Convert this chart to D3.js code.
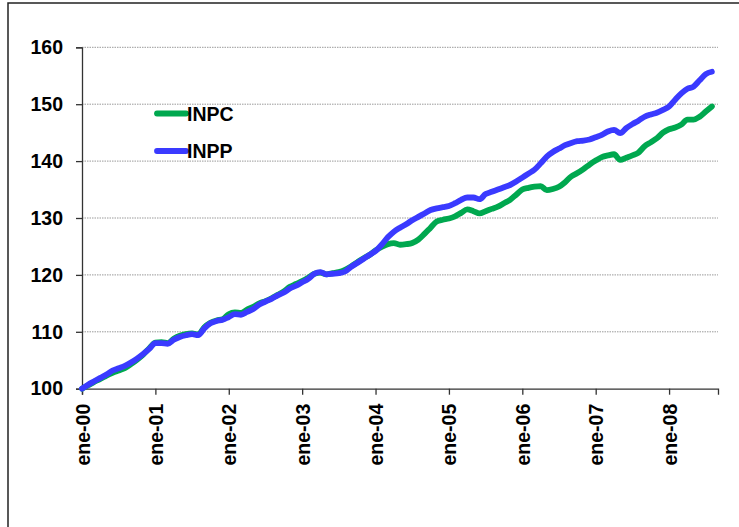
<!DOCTYPE html>
<html>
<head>
<meta charset="utf-8">
<script src="https://cdn.jsdelivr.net/npm/d3@7"></script>
<style>
  body { margin: 0; background: #fff; }
  svg { display: block; font-family: "Liberation Sans", Arial, sans-serif; font-weight: bold; }
</style>
</head>
<body>
<svg width="739" height="527"></svg>
<script>
// monthly index, ene-00 = 100
const inpc = [
  100.0, 100.6, 101.2, 101.7, 102.3, 102.8, 103.2, 103.6, 104.3, 105.1, 106.0, 107.1,
  108.1, 108.2, 108.0, 108.8, 109.3, 109.6, 109.7, 109.5, 110.8, 111.6, 112.0, 112.2,
  113.1, 113.4, 113.3, 113.9, 114.4, 115.0, 115.4, 115.9, 116.5, 117.1, 117.9, 118.4,
  118.9, 119.5, 120.2, 120.4, 120.1, 120.3, 120.5, 120.9, 121.5, 122.2, 122.9, 123.5,
  124.3, 124.9, 125.4, 125.6, 125.3, 125.4, 125.6, 126.2, 127.2, 128.3, 129.4, 129.7,
  129.9, 130.3, 130.9, 131.5, 131.2, 130.8, 131.2, 131.6, 132.0, 132.6, 133.2, 134.1,
  135.0, 135.3, 135.5, 135.6, 134.9, 135.1, 135.5, 136.3, 137.3, 137.9, 138.6, 139.4,
  140.1, 140.7, 141.0, 141.2, 140.2, 140.6, 141.0, 141.5, 142.6, 143.3, 144.0, 145.0,
  145.6, 145.9, 146.4, 147.3, 147.3, 147.8, 148.7, 149.6
];
const inpp = [
  100.0, 100.7, 101.3, 101.9, 102.5, 103.2, 103.6, 104.0, 104.6, 105.3, 106.1, 107.0,
  108.0, 108.0, 107.9, 108.6, 109.1, 109.4, 109.6, 109.4, 110.6, 111.5, 111.9, 112.1,
  112.6, 113.1, 113.0, 113.5, 114.0, 114.8, 115.3, 115.8, 116.4, 116.9, 117.6, 118.1,
  118.7, 119.3, 120.2, 120.5, 120.1, 120.2, 120.3, 120.6, 121.4, 122.1, 122.8, 123.5,
  124.2, 125.3, 126.6, 127.6, 128.3, 128.9, 129.6, 130.2, 130.8, 131.4, 131.7, 131.9,
  132.1, 132.6, 133.2, 133.6, 133.6, 133.3, 134.2, 134.6, 135.0, 135.4, 135.8, 136.4,
  137.1, 137.8, 138.5, 139.6, 140.8, 141.6, 142.2, 142.8, 143.2, 143.5, 143.6, 143.8,
  144.2, 144.6, 145.2, 145.5, 144.9, 145.8, 146.5, 147.1, 147.8, 148.2, 148.5, 149.0,
  149.6, 150.8, 151.9, 152.7, 153.1, 154.2, 155.3, 155.7
];
const yearLabels = ['ene-00', 'ene-01', 'ene-02', 'ene-03', 'ene-04', 'ene-05', 'ene-06', 'ene-07', 'ene-08'];
const yTicks = [100, 110, 120, 130, 140, 150, 160];

const series = [
  { name: 'INPC', values: inpc, color: '#00a84f' },
  { name: 'INPP', values: inpp, color: '#3a3aff' }
];

const svg = d3.select('svg');

// outer frame (runs off the right and bottom edges)
svg.append('rect')
  .attr('x', 8).attr('y', 3)
  .attr('width', 760).attr('height', 560)
  .attr('fill', 'none')
  .attr('stroke', '#222')
  .attr('stroke-width', 1.5);

const x = d3.scaleLinear().domain([0, 104]).range([82, 718]);
const y = d3.scaleLinear().domain([100, 160]).range([388.7, 47.3]);

// gridlines
svg.append('g')
  .selectAll('line')
  .data(yTicks.filter(d => d > 100))
  .enter()
  .append('line')
  .attr('x1', x(0)).attr('x2', x(104))
  .attr('y1', d => y(d)).attr('y2', d => y(d))
  .attr('stroke', '#9a9a9a')
  .attr('stroke-width', 1)
  .attr('stroke-dasharray', '1.5,1');

// y axis
const yAxis = svg.append('g')
  .attr('transform', `translate(${x(0)},0)`)
  .call(d3.axisLeft(y).tickValues(yTicks).tickSize(6).tickPadding(13));
yAxis.selectAll('text')
  .attr('font-size', 19.5)
  .attr('font-family', '"Liberation Sans", Arial, sans-serif')
  .attr('font-weight', 'bold')
  .attr('fill', '#000');

// x axis
const xAxis = svg.append('g')
  .attr('transform', `translate(0,${y(100)})`)
  .call(d3.axisBottom(x)
    .tickValues(yearLabels.map((d, i) => i * 12))
    .tickFormat((d, i) => yearLabels[i])
    .tickSize(6));
xAxis.selectAll('text')
  .attr('font-size', 19.5)
  .attr('font-family', '"Liberation Sans", Arial, sans-serif')
  .attr('font-weight', 'bold')
  .attr('fill', '#000')
  .attr('transform', 'rotate(-90)')
  .attr('text-anchor', 'end')
  .attr('dy', '0.36em')
  .attr('x', -15)
  .attr('y', 0);

svg.selectAll('.domain, .tick line')
  .attr('stroke', '#333')
  .attr('stroke-width', 1.3);

// lines
const line = d3.line()
  .x((d, i) => x(i))
  .y(d => y(d))
  .curve(d3.curveMonotoneX);

svg.append('g')
  .selectAll('path')
  .data(series)
  .enter()
  .append('path')
  .attr('d', d => line(d.values))
  .attr('fill', 'none')
  .attr('stroke', d => d.color)
  .attr('stroke-width', 5.8)
  .attr('stroke-linecap', 'round')
  .attr('stroke-linejoin', 'round');

// legend
const legend = svg.append('g')
  .selectAll('g')
  .data(series)
  .enter()
  .append('g')
  .attr('transform', (d, i) => `translate(157,${113.5 + i * 37.5})`);

legend.append('line')
  .attr('x1', 0).attr('x2', 29)
  .attr('stroke', d => d.color)
  .attr('stroke-width', 5.8)
  .attr('stroke-linecap', 'round');

legend.append('text')
  .attr('x', 30)
  .attr('dy', '0.36em')
  .attr('font-size', 19.5)
  .text(d => d.name);
</script>
</body>
</html>
